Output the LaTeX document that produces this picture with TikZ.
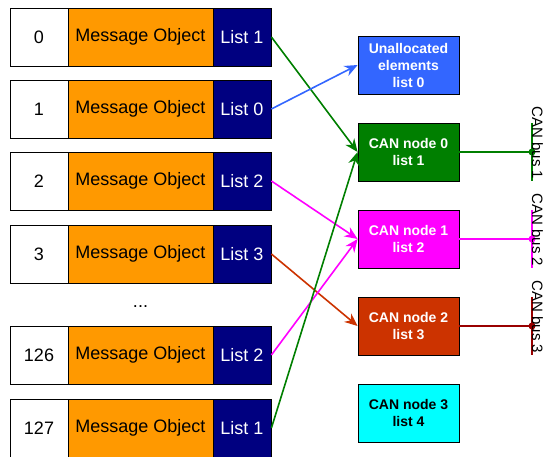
\documentclass[tikz,border=0pt]{standalone}
\usepackage{fontspec}
\setmainfont{Liberation Sans}
\usetikzlibrary{arrows.meta}
\definecolor{msgorange}{HTML}{FF9900}
\definecolor{listnavy}{HTML}{000080}
\definecolor{unalblue}{HTML}{3366FF}
\definecolor{cangreen}{HTML}{007F00}
\definecolor{canmagenta}{HTML}{FF00FF}
\definecolor{canred}{HTML}{CC3300}
\definecolor{busred}{HTML}{990000}
\definecolor{cancyan}{HTML}{00FFFF}
\tikzset{
  cell/.style={draw=black, line width=0.8pt, minimum height=58pt, inner sep=0pt,
    font=\fontsize{18}{20}\selectfont},
  idbox/.style={cell, fill=white, minimum width=58pt},
  msgbox/.style={cell, fill=msgorange, minimum width=145pt},
  listbox/.style={cell, fill=listnavy, text=white, minimum width=58pt},
  canbox/.style={draw=black, line width=0.8pt, minimum width=101pt, minimum height=58pt,
    inner sep=0pt, align=center, text=white, font=\fontsize{14}{17}\selectfont\bfseries},
  link/.style={line width=1.6pt, -{Stealth[length=13pt,width=11pt]}},
  buslabel/.style={rotate=-90, inner sep=0pt, font=\fontsize{15}{17}\selectfont}
}
\begin{document}
\begin{tikzpicture}[x=1pt, y=-1pt]
  \useasboundingbox (0,0) rectangle (544,457);
  \draw
    (39,37) node[idbox] (id0){0}
    (140.5,37) node[msgbox] (msg0){Message Object}
    (242,37) node[listbox] (list0){List 1}
    (39,109) node[idbox] (id1){1}
    (140.5,109) node[msgbox] (msg1){Message Object}
    (242,109) node[listbox] (list1){List 0}
    (39,181) node[idbox] (id2){2}
    (140.5,181) node[msgbox] (msg2){Message Object}
    (242,181) node[listbox] (list2){List 2}
    (39,254) node[idbox] (id3){3}
    (140.5,254) node[msgbox] (msg3){Message Object}
    (242,254) node[listbox] (list3){List 3}
    (140.5,307) node[font=\fontsize{18}{20}\selectfont] (dots){...}
    (39,355) node[idbox] (id126){126}
    (140.5,355) node[msgbox] (msg126){Message Object}
    (242,355) node[listbox] (list126){List 2}
    (39,428) node[idbox] (id127){127}
    (140.5,428) node[msgbox] (msg127){Message Object}
    (242,428) node[listbox] (list127){List 1};
  \draw
    (408.5,65) node[canbox, fill=unalblue] (unal){Unallocated\\elements\\list 0}
    (408.5,152) node[canbox, fill=cangreen] (can0){CAN node 0\\list 1}
    (408.5,239) node[canbox, fill=canmagenta] (can1){CAN node 1\\list 2}
    (408.5,326) node[canbox, fill=canred] (can2){CAN node 2\\list 3}
    (408.5,413) node[canbox, fill=cancyan, text=black] (can3){CAN node 3\\list 4};
  \coordinate (bus0) at (532,152);
  \coordinate (bus1) at (532,239);
  \coordinate (bus2) at (532,326);
  \begin{scope}[link]
    \draw[cangreen] (list0.east) to (can0.west);
    \draw[unalblue] (list1.east) to (unal.west);
    \draw[canmagenta] (list2.east) to (can1.west);
    \draw[canred] (list3.east) to (can2.west);
    \draw[canmagenta] (list126.east) to (can1.west);
    \draw[cangreen] (list127.east) to (can0.west);
  \end{scope}
  \begin{scope}[line width=1.6pt]
    \draw[cangreen] (can0.east) -- (bus0) (bus0) ++(0,-29) -- ++(0,58);
    \fill[cangreen] (bus0) circle (3.5);
    \draw[canmagenta] (can1.east) -- (bus1) (bus1) ++(0,-29) -- ++(0,58);
    \fill[canmagenta] (bus1) circle (3.5);
    \draw[busred] (can2.east) -- (bus2) (bus2) ++(0,-29) -- ++(0,58);
    \fill[busred] (bus2) circle (3.5);
  \end{scope}
  \node[buslabel] (lab0) at (537.5,143) {CAN bus 1};
  \node[buslabel] (lab1) at (537.5,230) {CAN bus 2};
  \node[buslabel] (lab2) at (537.5,317) {CAN bus 3};
\end{tikzpicture}
\end{document}
